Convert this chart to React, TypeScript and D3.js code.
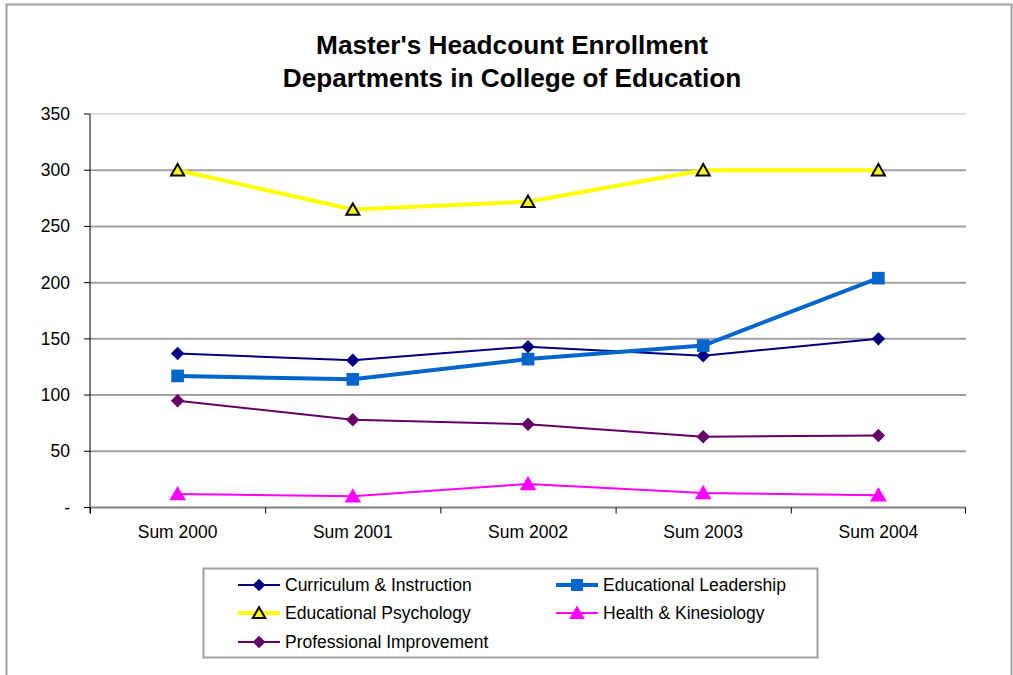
import React from "react";
import * as d3 from "d3";

const categories = ["Sum 2000", "Sum 2001", "Sum 2002", "Sum 2003", "Sum 2004"];
const curriculum = [137, 131, 143, 135, 150];
const leadership = [117, 114, 132, 144, 204];
const psychology = [300, 265, 272, 300, 300];
const health = [12, 10, 21, 13, 11];
const professional = [95, 78, 74, 63, 64];
const yTicks = [0, 50, 100, 150, 200, 250, 300, 350];

type Series = { name: string; values: number[]; color: string; width: number; marker: string; fill: string; stroke: string; size: number };

const series: Series[] = [
  { name: "Curriculum & Instruction", values: curriculum, color: "#000080", width: 2, marker: "diamond", fill: "#000080", stroke: "none", size: 115 },
  { name: "Educational Leadership", values: leadership, color: "#0066CC", width: 4, marker: "square", fill: "#0066CC", stroke: "none", size: 160 },
  { name: "Educational Psychology", values: psychology, color: "#FFFF00", width: 4, marker: "triangle", fill: "#FFFF00", stroke: "#000000", size: 75 },
  { name: "Health & Kinesiology", values: health, color: "#FF00FF", width: 2, marker: "triangle", fill: "#FF00FF", stroke: "none", size: 120 },
  { name: "Professional Improvement", values: professional, color: "#660066", width: 2, marker: "diamond", fill: "#660066", stroke: "none", size: 115 },
];

const W = 1013, H = 675;
const plot = { left: 90, right: 966, top: 114, bottom: 507.5 };
const font = "Arial, 'Liberation Sans', sans-serif";

function symbolFor(m: string) {
  if (m === "diamond") return d3.symbolDiamond2;
  if (m === "square") return d3.symbolSquare;
  return d3.symbolTriangle;
}

export default function App() {
  const x = d3.scaleBand<string>().domain(categories).range([plot.left, plot.right]).padding(0);
  const y = d3.scaleLinear().domain([0, 350]).range([plot.bottom, plot.top]);
  const cx = (c: string) => (x(c) as number) + x.bandwidth() / 2;
  const line = d3.line<number>().x((_, i) => cx(categories[i])).y((v) => y(v));

  const legendPos = [
    { x: 238, y: 585 },
    { x: 556, y: 585 },
    { x: 238, y: 613 },
    { x: 556, y: 613 },
    { x: 238, y: 642 },
  ];

  const drawMarker = (s: Series, px: number, py: number, key: string, scale = 1) => {
    const sym = d3.symbol().type(symbolFor(s.marker)).size(s.size * scale)();
    const dy = s.marker === "triangle" ? 1.5 : 0;
    return (
      <path key={key} d={sym || ""} transform={`translate(${px},${py + dy})`} fill={s.fill}
        stroke={s.stroke} strokeWidth={s.stroke === "none" ? 0 : 2} strokeLinejoin="miter" />
    );
  };

  return (
    <svg width={W} height={H} style={{ position: "fixed", left: 0, top: 0, background: "#fff" }} fontFamily={font}>
      <rect x={0} y={0} width={W} height={H} fill="#fff" />
      <rect x={6.5} y={4.5} width={1005} height={700} fill="none" stroke="#a0a0a0" strokeWidth={2} />
      <text x={512} y={54} textAnchor="middle" fontSize={26.2} fontWeight="bold">Master's Headcount Enrollment</text>
      <text x={512} y={87} textAnchor="middle" fontSize={26.2} fontWeight="bold">Departments in College of Education</text>

      {yTicks.map((t) => (
        <g key={t}>
          {t > 0 && (
            <line x1={plot.left} x2={plot.right} y1={y(t)} y2={y(t)} stroke={t === 350 ? "#e0e0e0" : "#a0a0a0"} strokeWidth={2} />
          )}
          <line x1={plot.left - 6} x2={plot.left} y1={y(t)} y2={y(t)} stroke="#000" strokeWidth={1} />
          <text x={70} y={y(t) + 6} textAnchor="end" fontSize={17.5}>{t === 0 ? "-" : t}</text>
        </g>
      ))}
      <line x1={plot.left} x2={plot.right} y1={y(0)} y2={y(0)} stroke="#808080" strokeWidth={2} />
      <line x1={plot.left} x2={plot.left} y1={plot.top} y2={y(0) + 6} stroke="#000" strokeWidth={1} />
      {categories.map((c, i) => (
        <g key={c}>
          <line x1={(x(c) as number) + 0.5} x2={(x(c) as number) + 0.5} y1={y(0)} y2={y(0) + 6} stroke="#000" />
          {i === categories.length - 1 && (
            <line x1={plot.right - 0.5} x2={plot.right - 0.5} y1={y(0)} y2={y(0) + 6} stroke="#000" />
          )}
          <text x={cx(c)} y={538} textAnchor="middle" fontSize={17.5}>{c}</text>
        </g>
      ))}

      {series.map((s) => (
        <g key={s.name}>
          <path d={line(s.values) || ""} fill="none" stroke={s.color} strokeWidth={s.width} strokeLinejoin="round" />
          {s.values.map((v, i) => drawMarker(s, cx(categories[i]), y(v), `${s.name}-${i}`))}
        </g>
      ))}

      <rect x={203.5} y={568.5} width={614} height={89} fill="#fff" stroke="#a0a0a0" strokeWidth={2} />
      {series.map((s, i) => {
        const p = legendPos[i];
        return (
          <g key={s.name + "-leg"}>
            <line x1={p.x} x2={p.x + 42} y1={p.y} y2={p.y} stroke={s.color} strokeWidth={s.width} />
            {drawMarker(s, p.x + 21, p.y, s.name + "-lm", 0.9)}
            <text x={p.x + 47} y={p.y + 6} fontSize={17.5}>{s.name}</text>
          </g>
        );
      })}
    </svg>
  );
}
